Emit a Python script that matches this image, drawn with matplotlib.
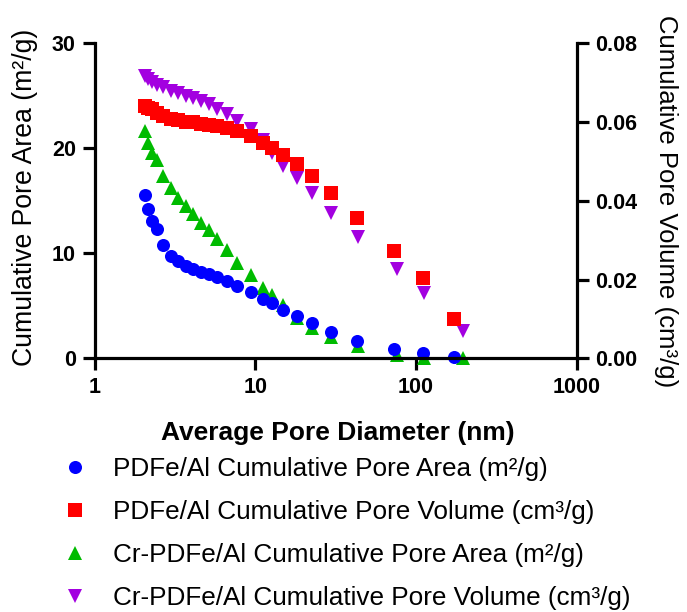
import matplotlib
matplotlib.use("Agg")
import matplotlib.pyplot as plt
from matplotlib.ticker import FixedLocator, FixedFormatter, NullLocator, FormatStrFormatter

# =========================
# DATA
# =========================
pdfe_diameter = [2.06, 2.16, 2.27, 2.44, 2.68, 2.98, 3.32, 3.71, 4.12, 4.58,
                 5.16, 5.81, 6.65, 7.74, 9.38, 11.2, 12.8, 15.0, 18.1, 22.5,
                 29.6, 43.2, 73.4, 110.2, 171.9]
cr_diameter = [2.06, 2.16, 2.27, 2.44, 2.68, 2.98, 3.32, 3.71, 4.12, 4.58,
               5.16, 5.81, 6.65, 7.74, 9.38, 11.2, 12.8, 15.0, 18.1, 22.5,
               29.6, 43.8, 75.9, 112.3, 197.8]

pdfe_area = [15.55, 14.19, 13.10, 12.29, 10.79, 9.74, 9.27, 8.79, 8.50, 8.25,
             8.00, 7.71, 7.39, 6.91, 6.34, 5.62, 5.24, 4.60, 4.00, 3.33,
             2.53, 1.68, 0.89, 0.53, 0.15]
pdfe_volume = [0.0642, 0.0637, 0.0632, 0.0624, 0.0615, 0.0609, 0.0605, 0.0601,
               0.0599, 0.0596, 0.0593, 0.0589, 0.0584, 0.0577, 0.0565, 0.0546,
               0.0535, 0.0516, 0.0493, 0.0463, 0.0419, 0.0357, 0.0273, 0.0205,
               0.0099]
cr_area = [21.68, 20.48, 19.52, 18.89, 17.39, 16.24, 15.29, 14.48, 13.72, 12.91,
           12.19, 11.41, 10.31, 9.12, 7.89, 6.67, 6.03, 5.08, 3.81, 2.86,
           2.00, 1.17, 0.31, 0.0, 0.0]
cr_volume = [0.0716, 0.0709, 0.0703, 0.0695, 0.0688, 0.0680, 0.0674, 0.0667,
             0.0661, 0.0653, 0.0645, 0.0634, 0.0620, 0.0604, 0.0582, 0.0554,
             0.0521, 0.0488, 0.0459, 0.0420, 0.0370, 0.0308, 0.0226, 0.0167,
             0.0069]

x_ticks = [1, 10, 100, 1000]
x_tick_labels = ["1", "10", "100", "1000"]
left_ticks = [0, 10, 20, 30]
right_ticks = [0.00, 0.02, 0.04, 0.06, 0.08]

labels = [
    "PDFe/Al Cumulative Pore Area (m\u00b2/g)",
    "PDFe/Al Cumulative Pore Volume (cm\u00b3/g)",
    "Cr-PDFe/Al Cumulative Pore Area (m\u00b2/g)",
    "Cr-PDFe/Al Cumulative Pore Volume (cm\u00b3/g)",
]

# =========================
# STYLE
# =========================
plt.rcParams["font.family"] = ["Liberation Sans", "DejaVu Sans"]
BLUE = "#0000FF"
RED = "#FF0000"
GREEN = "#00BB00"
PURPLE = "#A300E0"
LW = 2.3

fig = plt.figure(figsize=(6.87, 6.12), dpi=100)
ax1 = fig.add_axes([0.1376, 0.4145, 0.7016, 0.5147])
ax2 = ax1.twinx()

# =========================
# PLOT
# =========================
l_green, = ax1.plot(cr_diameter, cr_area, ls="none", marker="^", ms=10,
                    color=GREEN, mew=0, clip_on=False)
l_blue, = ax1.plot(pdfe_diameter, pdfe_area, ls="none", marker="o", ms=9.4,
                   color=BLUE, mew=0, clip_on=False)
l_purple, = ax2.plot(cr_diameter, cr_volume, ls="none", marker="v", ms=10,
                     color=PURPLE, mew=0, clip_on=False)
l_red, = ax2.plot(pdfe_diameter, pdfe_volume, ls="none", marker="s", ms=9.4,
                  color=RED, mew=0, clip_on=False)

# =========================
# AXES
# =========================
ax1.set_xscale("log")
ax1.set_xlim(1, 1000)
ax1.set_ylim(0, 30)
ax2.set_ylim(0, 0.08)

ax1.xaxis.set_major_locator(FixedLocator(x_ticks))
ax1.xaxis.set_major_formatter(FixedFormatter(x_tick_labels))
ax1.xaxis.set_minor_locator(NullLocator())
ax1.set_yticks(left_ticks)
ax2.set_yticks(right_ticks)
ax2.yaxis.set_major_formatter(FormatStrFormatter("%.2f"))

for ax in (ax1, ax2):
    ax.spines["top"].set_visible(False)
    for sp in ax.spines.values():
        sp.set_linewidth(LW)
    ax.tick_params(which="major", direction="out", length=8.5, width=LW,
                   labelsize=15.5, pad=5)
    for t in ax.get_xticklabels() + ax.get_yticklabels():
        t.set_fontweight("bold")
ax1.spines["right"].set_visible(False)
ax2.spines["left"].set_visible(False)
ax2.spines["bottom"].set_visible(False)

ax1.set_xlabel("Average Pore Diameter (nm)", fontsize=19, fontweight="bold")
ax1.xaxis.set_label_coords(0.504, -0.2)
ax1.set_ylabel("Cumulative Pore Area (m\u00b2/g)", fontsize=19.2)
ax1.yaxis.set_label_coords(-0.118, 0.51)
ax2.set_ylabel("Cumulative Pore Volume (cm\u00b3/g)", fontsize=18.5,
               rotation=270, va="bottom")
ax2.yaxis.set_label_coords(1.16, 0.498)

# =========================
# LEGEND
# =========================
fig.legend([l_blue, l_red, l_green, l_purple], labels,
           loc="upper left", bbox_to_anchor=(0.0914, 0.253),
           frameon=False, fontsize=18.8, handlelength=0.95,
           handletextpad=0.99, labelspacing=0.73, borderpad=0,
           borderaxespad=0)

fig.savefig("out.png", dpi=100)
